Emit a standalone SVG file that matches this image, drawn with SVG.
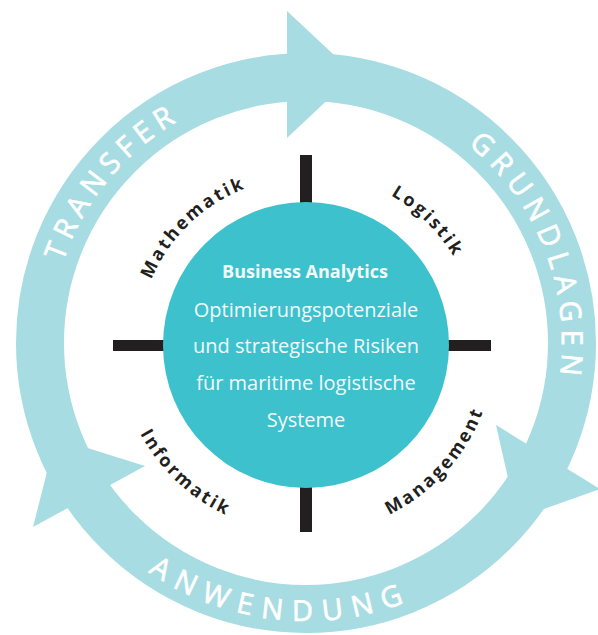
<svg xmlns="http://www.w3.org/2000/svg" width="598" height="635" viewBox="0 0 598 635">
<style>
.ring{fill:none;stroke:#a7dce3;stroke-width:48}
.head{fill:#a7dce3}
.bar{fill:#231f20}
.rt{font-family:"Open Sans","Noto Sans",sans-serif;font-size:29px;fill:#ffffff;stroke:#ffffff;stroke-width:0.7px;text-anchor:middle}
.lbl{font-family:"Open Sans","Noto Sans",sans-serif;font-size:18px;font-weight:bold;fill:#231f20;text-anchor:middle;letter-spacing:2.5px}
.ct{font-family:"Open Sans","Noto Sans",sans-serif;font-size:20px;fill:#f2fbfc;text-anchor:middle}
.cb{font-weight:bold;font-size:18px}
</style>
<defs>
<path id="pTransfer" d="M67,434.7 A256,256 0 0 1 346,90.1"/>
<path id="pGrund" d="M342.1,89.6 A256,256 0 0 1 507.4,501"/>
<path id="pAnw" d="M50.1,451.6 A278,278 0 0 0 528,510.3"/>
<path id="pMath" d="M143.3,386.8 A168,168 0 0 1 351.2,183.2"/>
<path id="pLog" d="M258.9,179.6 A172,172 0 0 1 472.8,386.9"/>
<path id="pInf" d="M123.4,300.2 A188,188 0 0 0 358.5,525.5"/>
<path id="pMan" d="M265.1,529.5 A189,189 0 0 0 486.3,288.2"/>
</defs>
<g id="cycle">
<circle class="ring" cx="306" cy="343" r="266"/>
<polygon class="head" points="287,11 354.7,74.2 287,138"/>
<polygon class="head" points="496,425 517.2,518.5 600,489"/>
<polygon class="head" points="33,527 55.6,438 145,466"/>
<text class="rt" style="letter-spacing:6.4px"><textPath href="#pTransfer" startOffset="50.6%">TRANSFER</textPath></text>
<text class="rt" style="letter-spacing:7px"><textPath href="#pGrund" startOffset="50.7%">GRUNDLAGEN</textPath></text>
<text class="rt" style="letter-spacing:9.8px"><textPath href="#pAnw" startOffset="50.9%">ANWENDUNG</textPath></text>
</g>
<g id="connectors">
<rect class="bar" x="300" y="155" width="12" height="50"/>
<rect class="bar" x="300" y="485" width="12" height="47"/>
<rect class="bar" x="113" y="340" width="52" height="11"/>
<rect class="bar" x="447" y="340" width="44" height="11"/>
</g>
<g id="mathematik"><text class="lbl"><textPath href="#pMath" startOffset="50.4%">Mathematik</textPath></text></g>
<g id="logistik"><text class="lbl"><textPath href="#pLog" startOffset="50.4%">Logistik</textPath></text></g>
<g id="informatik"><text class="lbl"><textPath href="#pInf" startOffset="50.4%">Informatik</textPath></text></g>
<g id="management"><text class="lbl"><textPath href="#pMan" startOffset="50.4%">Management</textPath></text></g>
<g id="business-analytics">
<circle cx="306" cy="345" r="143" fill="#3dc1cd"/>
<text class="ct cb" x="305" y="278">Business Analytics</text>
<text class="ct" x="306" y="317">Optimierungspotenziale</text>
<text class="ct" x="306" y="353">und strategische Risiken</text>
<text class="ct" x="306" y="390">für maritime logistische</text>
<text class="ct" x="306" y="427">Systeme</text>
</g>
</svg>
